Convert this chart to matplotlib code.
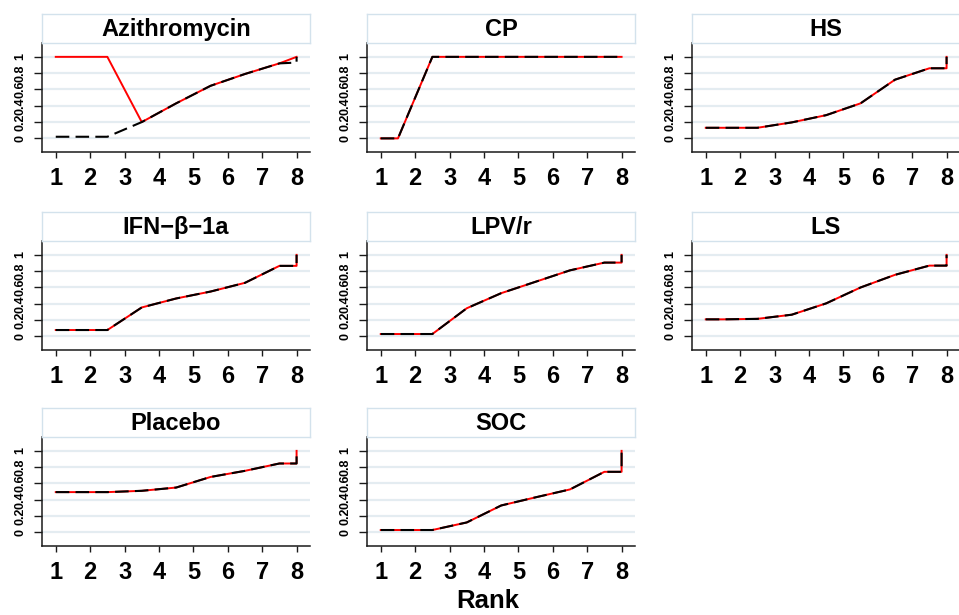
import matplotlib
matplotlib.use('Agg')
import matplotlib.pyplot as plt

plt.rcParams['font.family'] = ['Liberation Sans', 'DejaVu Sans']

# rank positions used by the curves (last point repeated for the closing jump)
x_pos = [1, 1.5, 2.5, 3.5, 4.5, 5.5, 6.5, 7.5, 8, 8]
x_ticks = [1, 2, 3, 4, 5, 6, 7, 8]
y_ticks = [0, 0.2, 0.4, 0.6, 0.8, 1]
y_labels = ['0', '0.2', '0.4', '0.6', '0.8', '1']

titles = ['Azithromycin', 'CP', 'HS', 'IFN\u2212\u03b2\u22121a', 'LPV/r', 'LS', 'Placebo', 'SOC']

# red = solid curve, black = dashed curve
azi_red = [1.0, 1.0, 1.0, 0.20, 0.43, 0.645, 0.79, 0.92, 1.0, 1.0]
azi_black = [0.02, 0.02, 0.02, 0.20, 0.43, 0.645, 0.79, 0.92, 0.93, 1.0]
cp = [0.0, 0.0, 1.0, 1.0, 1.0, 1.0, 1.0, 1.0, 1.0, 1.0]
hs = [0.13, 0.13, 0.13, 0.196, 0.285, 0.43, 0.72, 0.86, 0.86, 1.0]
ifn = [0.078, 0.078, 0.078, 0.355, 0.465, 0.55, 0.657, 0.865, 0.865, 1.0]
lpv = [0.029, 0.029, 0.029, 0.345, 0.53, 0.67, 0.81, 0.905, 0.905, 1.0]
ls = [0.209, 0.209, 0.215, 0.266, 0.405, 0.60, 0.755, 0.868, 0.868, 1.0]
placebo = [0.494, 0.494, 0.494, 0.51, 0.55, 0.68, 0.755, 0.845, 0.845, 1.0]
soc = [0.029, 0.029, 0.029, 0.122, 0.33, 0.43, 0.527, 0.743, 0.743, 1.0]

red_curves = [azi_red, cp, hs, ifn, lpv, ls, placebo, soc]
black_curves = [azi_black, cp, hs, ifn, lpv, ls, placebo, soc]

W, H = 959, 615
fig = plt.figure(figsize=(W / 100, H / 100), dpi=100)

col_left = [42, 367, 692]
plot_top = [43, 241, 437]
pw, ph = 268, 109
strip_h = 29
grid_col = '#e4ecf1'
strip_col = '#d3e2ec'
axis_col = '#1a1a1a'


def px_box(x, y, w, h):
    return [x / W, 1 - (y + h) / H, w / W, h / H]


for i, name in enumerate(titles):
    r, c = divmod(i, 3)
    ax = fig.add_axes(px_box(col_left[c], plot_top[r], pw, ph))
    ax.set_xlim(0.6, 8.39)
    ax.set_ylim(-0.167, 1.17)

    for y in y_ticks:
        ax.axhline(y, color=grid_col, lw=1.6, zorder=0)

    ax.plot(x_pos, red_curves[i], color='#ff0000', lw=1.4, zorder=2)
    ax.plot(x_pos, black_curves[i], color='black', lw=1.5, dashes=(6.5, 3), zorder=3)

    ax.spines['top'].set_visible(False)
    ax.spines['right'].set_visible(False)
    for s in ['left', 'bottom']:
        ax.spines[s].set_color(axis_col)
        ax.spines[s].set_linewidth(1.1)

    ax.set_xticks(x_ticks)
    ax.set_xticklabels([str(t) for t in x_ticks], fontsize=17, fontweight='bold')
    ax.set_yticks(y_ticks)
    ax.set_yticklabels(y_labels, fontsize=9, fontweight='bold')
    for lab in ax.get_yticklabels():
        lab.set_rotation(90)
        lab.set_va('center')
    ax.tick_params(axis='x', length=4.5, width=1.0, color=axis_col, pad=6)
    ax.tick_params(axis='y', length=5.5, width=1.0, color=axis_col, pad=6)

    # title strip above each panel
    sx = fig.add_axes(px_box(col_left[c], plot_top[r] - strip_h, pw, strip_h))
    sx.set_xticks([])
    sx.set_yticks([])
    for s in sx.spines.values():
        s.set_color(strip_col)
        s.set_linewidth(1.0)
    sx.text(0.5, 0.47, name, ha='center', va='center', fontsize=17,
            fontweight='bold', transform=sx.transAxes)

fig.text(488 / W, 1 - 601 / H, 'Rank', ha='center', va='center',
         fontsize=18.5, fontweight='bold')

fig.savefig('out.png', dpi=100)
